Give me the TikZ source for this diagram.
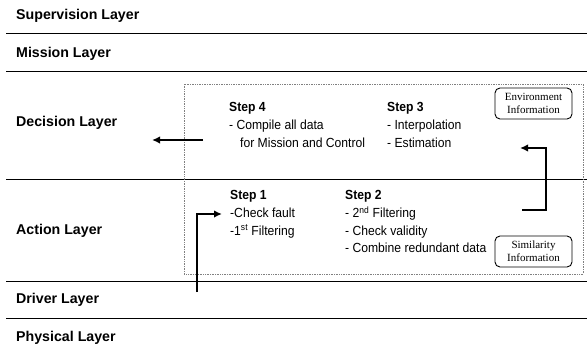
\documentclass[tikz,border=0pt]{standalone}
\usepackage{fontspec}
\setmainfont{Liberation Sans}
\newfontfamily\narrowsf[FakeStretch=0.92]{Liberation Sans}
\newfontfamily\infoserif{Liberation Serif}
\usetikzlibrary{arrows.meta}

\begin{document}
\begin{tikzpicture}[x=1pt, y=-1pt,
	layer/.style={anchor=base west, inner sep=0pt, font=\fontsize{14.2}{16}\selectfont\bfseries},
	steptext/.style={anchor=north west, inner sep=0pt, align=left, font=\narrowsf\fontsize{13.2}{17.6}\selectfont},
	infobox/.style={draw, rounded corners=5pt, line width=0.9pt, minimum width=77pt, minimum height=31pt, align=center, inner sep=1pt, font=\infoserif\fontsize{11}{13}\selectfont},
	flow/.style={line width=2.6pt, -{Latex[length=8pt,width=7.5pt]}}
	]
	\useasboundingbox (0,0) rectangle (587,346);
	% layers
	\node[layer] (sup) at (16,19.5) {Supervision Layer};
	\node[layer] (mis) at (16,57) {Mission Layer};
	\node[layer] (dec) at (16,126) {Decision Layer};
	\node[layer] (act) at (16,234) {Action Layer};
	\node[layer] (drv) at (16,303) {Driver Layer};
	\node[layer] (phy) at (16,341) {Physical Layer};
	\foreach \y in {33,71,179,281,318}
		\draw[line width=0.9pt] (6,\y) -- (587,\y);
	% fusion block
	\draw[gray, densely dotted, line width=0.7pt] (184,84) rectangle (583,274);
	\node[steptext] (step4) at (229,102.5) {\textbf{Step 4}\\- Compile all data\\\hspace*{11pt}for Mission and Control};
	\node[steptext] (step3) at (387,102.5) {\textbf{Step 3}\\- Interpolation\\- Estimation};
	\node[steptext] (step1) at (230,190.5) {\textbf{Step 1}\\-Check fault\\-1\textsuperscript{st} Filtering};
	\node[steptext] (step2) at (345,190.5) {\textbf{Step 2}\\- 2\textsuperscript{nd} Filtering\\- Check validity\\- Combine redundant data};
	\node[infobox] (env) at (533.5,103.5) {Environment\\Information};
	\node[infobox] (sim) at (533.5,251.5) {Similarity\\Information};
	% data flow
	\coordinate (up) at (203,140);
	\coordinate (upout) at (152,140);
	\draw[flow] (up) -- (upout);
	\coordinate (s2out) at (522,210);
	\coordinate (s3in) at (520,148);
	\draw[flow] (s2out) -- ++(24,0) |- (s3in);
	\coordinate (low) at (197,292);
	\coordinate (s1in) at (222,214);
	\draw[flow] (low) |- (s1in);
\end{tikzpicture}
\end{document}
